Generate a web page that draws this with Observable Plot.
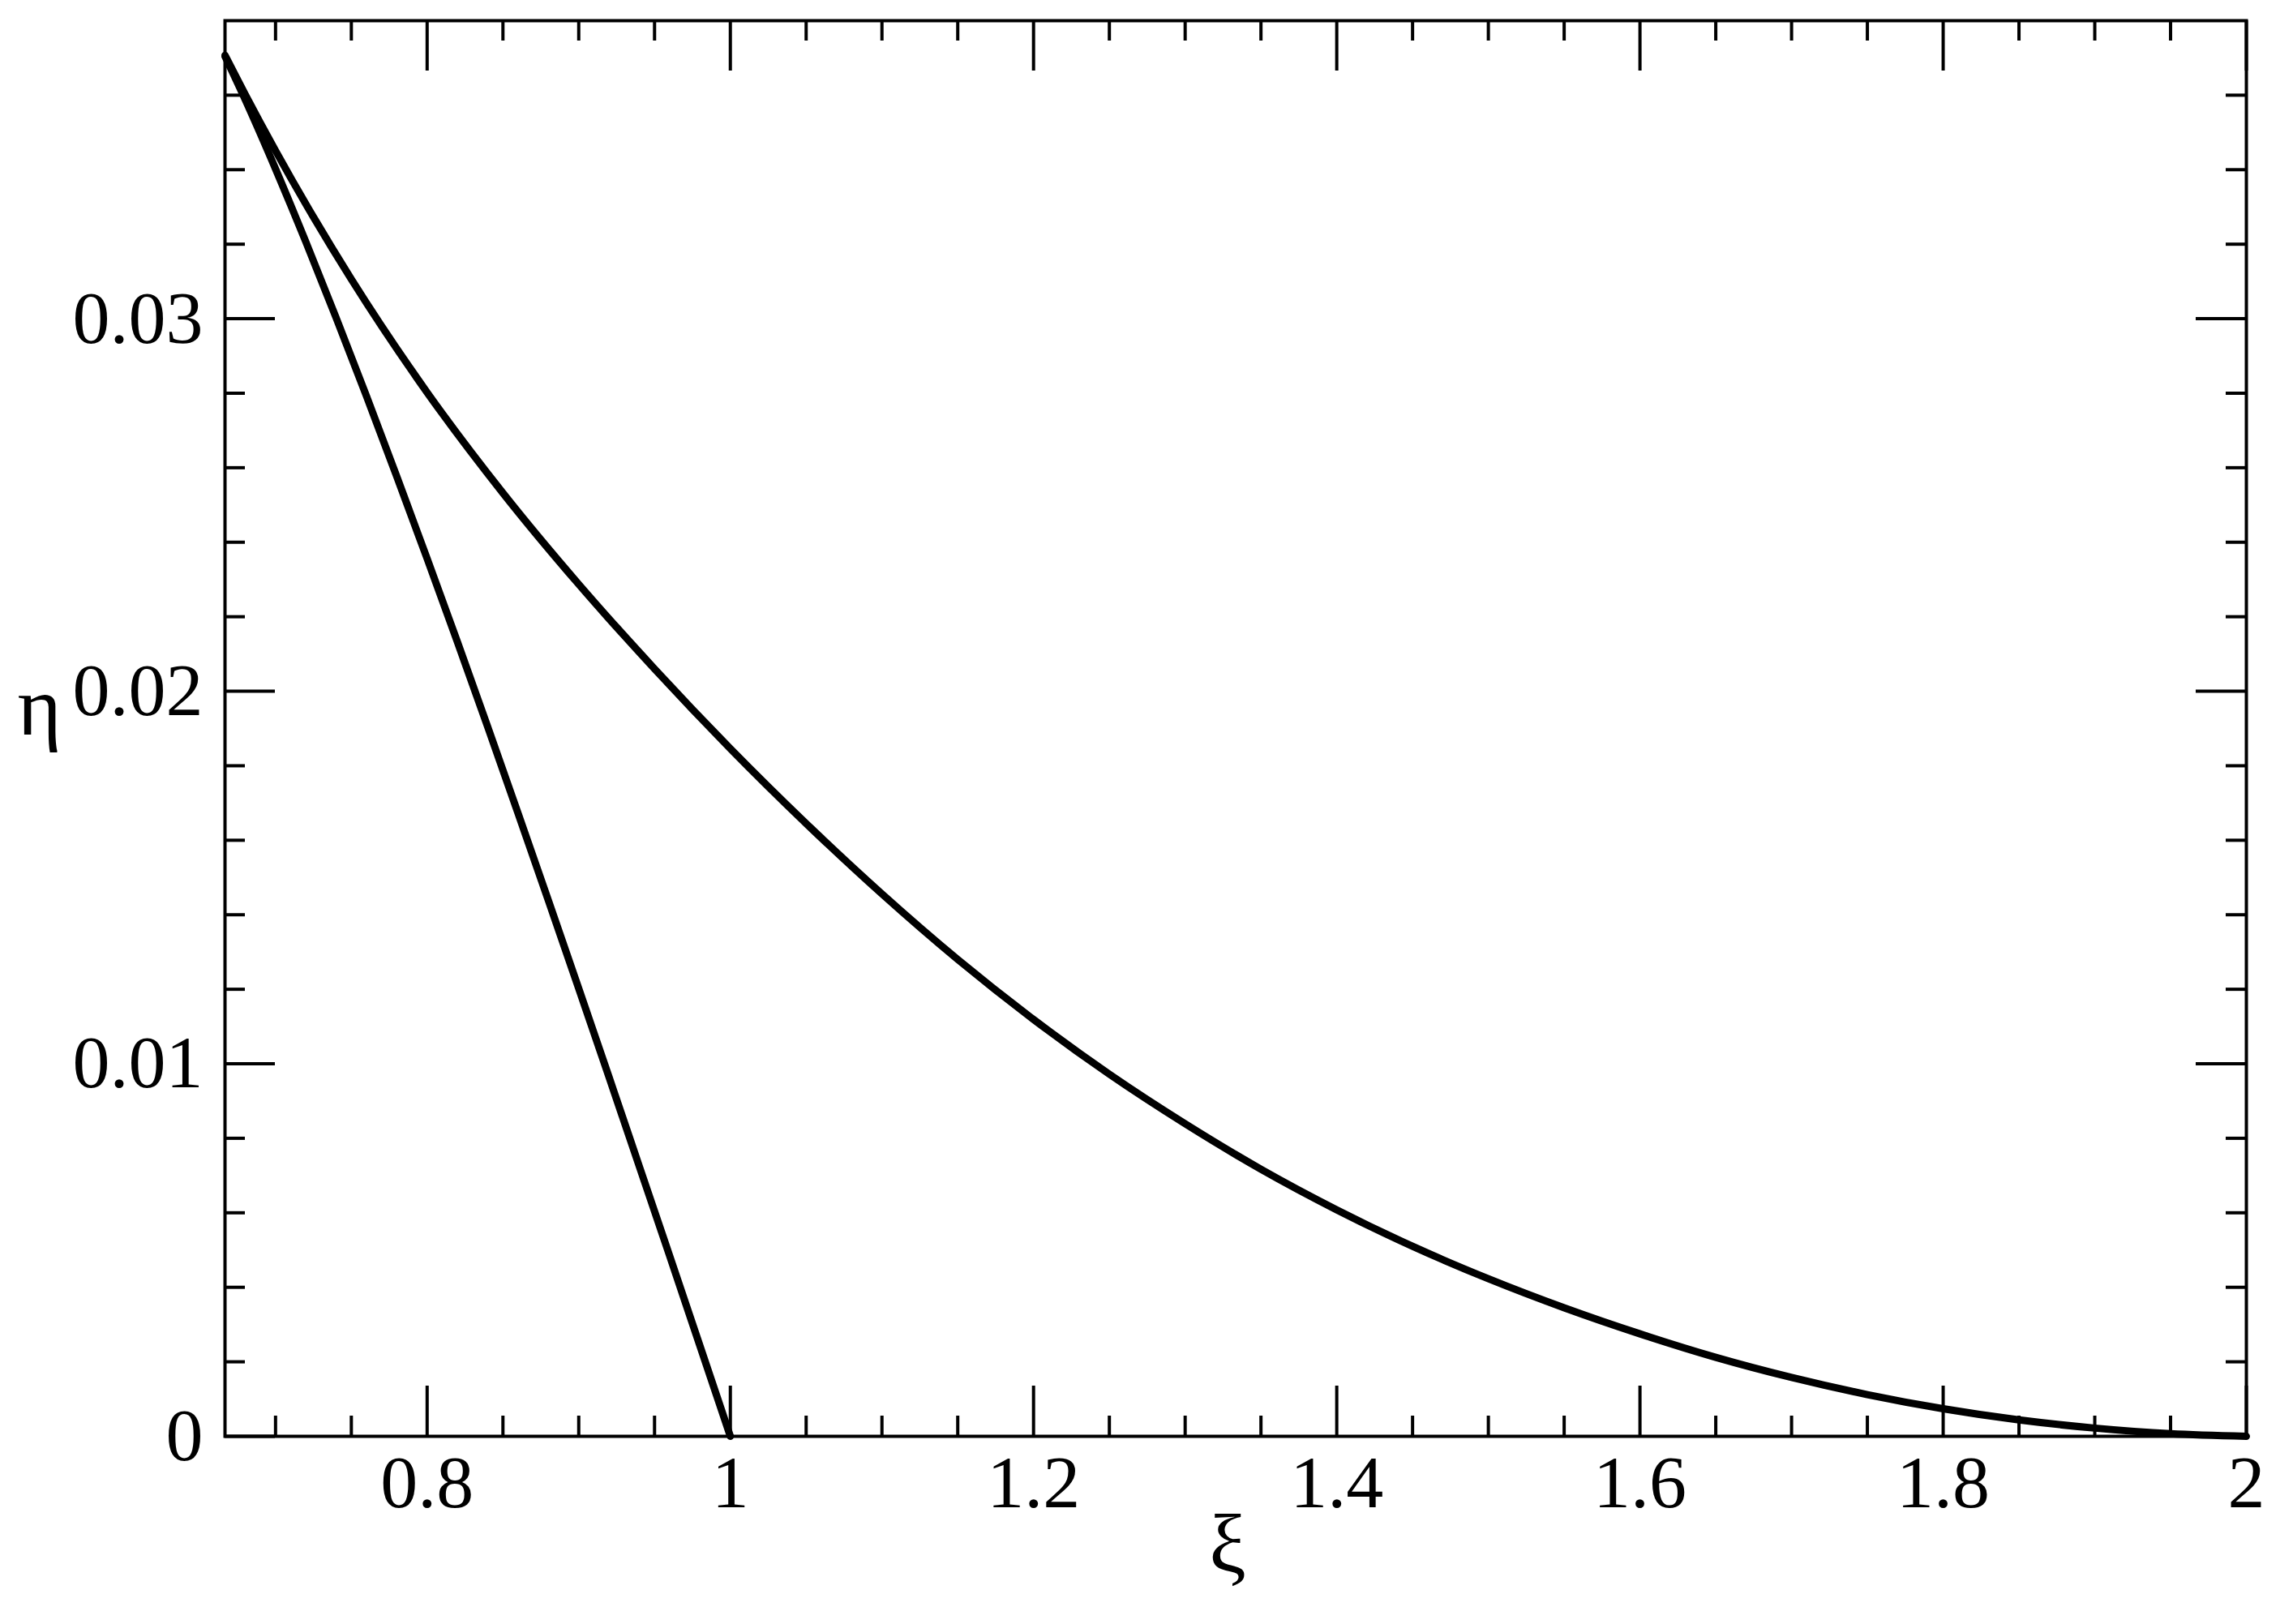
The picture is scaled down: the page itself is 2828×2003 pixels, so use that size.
<!DOCTYPE html>
<html><head><meta charset="utf-8">
<script src="https://cdn.jsdelivr.net/npm/d3@7"></script>
<script src="https://cdn.jsdelivr.net/npm/@observablehq/plot@0.6"></script>
<style>html,body{margin:0;padding:0;background:#fff;overflow:hidden}</style>
</head><body><div id="chart"></div>
<script>
// Lower curve (ends at xi = 1)
const xiLower  = [0.6667, 0.68, 0.70, 0.72, 0.74, 0.76, 0.78, 0.80, 0.82, 0.84, 0.86, 0.88, 0.90, 0.92, 0.94, 0.96, 0.98, 1.00];
const etaLower = [0.03704, 0.03588, 0.03402, 0.03206, 0.03002, 0.02792, 0.02576, 0.02356, 0.02132, 0.01904, 0.01672, 0.01438, 0.01202, 0.00964, 0.00724, 0.00484, 0.00242, 0];
// Upper curve (ends at xi = 2)
const xiUpper  = [0.6667, 0.68, 0.70, 0.725, 0.75, 0.80, 0.85, 0.90, 0.95, 1.00, 1.05, 1.10, 1.15, 1.20, 1.25, 1.30, 1.35, 1.40, 1.45, 1.50, 1.55, 1.60, 1.65, 1.70, 1.75, 1.80, 1.85, 1.90, 1.95, 2.00];
const etaUpper = [0.03707, 0.03602, 0.03451, 0.03273, 0.03106, 0.02802, 0.02532, 0.02287, 0.02060, 0.01846, 0.01645, 0.01456, 0.01280, 0.01119, 0.00972, 0.00839, 0.00717, 0.00608, 0.00510, 0.00423, 0.00345, 0.00275, 0.00212, 0.00158, 0.00112, 0.00074, 0.00044, 0.00022, 0.00007, 0];

const xTicks = [0.8, 1, 1.2, 1.4, 1.6, 1.8, 2];
const xMinorTicks = [0.7, 0.75, 0.85, 0.9, 0.95, 1.05, 1.1, 1.15, 1.25, 1.3, 1.35, 1.45, 1.5, 1.55, 1.65, 1.7, 1.75, 1.85, 1.9, 1.95];
const yTicks = [0, 0.01, 0.02, 0.03];
const yMinorTicks = [0.002, 0.004, 0.006, 0.008, 0.012, 0.014, 0.016, 0.018, 0.022, 0.024, 0.026, 0.028, 0.032, 0.034, 0.036];
const xLabel = "ξ";
const yLabel = "η";

const W = 2828, H = 2003;
const mL = 277, mR = 58, mT = 25, mB = 232;
const innerW = W - mL - mR, innerH = H - mT - mB;
const majorLen = 62, minorLen = 25, sw = 4;

const lower = xiLower.map((x, i) => ({xi: x, eta: etaLower[i]}));
const upper = xiUpper.map((x, i) => ({xi: x, eta: etaUpper[i]}));

const chart = Plot.plot({
  width: W, height: H,
  marginLeft: mL, marginRight: mR, marginTop: mT, marginBottom: mB,
  style: {fontFamily: "'Liberation Serif', 'Times New Roman', serif", fontSize: "90px", background: "#fff", color: "#000", overflow: "visible"},
  x: {domain: [2/3, 2]},
  y: {domain: [0, 0.038]},
  marks: [
    // tick labels
    Plot.axisX(xTicks, {tickSize: 0, tickPadding: 22, tickFormat: d => String(d), label: null, fontSize: 92}),
    Plot.axisY(yTicks, {tickSize: 0, tickPadding: 27, tickFormat: d => String(d), label: null, fontSize: 92}),
    // inward ticks on all four sides
    Plot.tickX(xTicks, {x: d => d, insetTop: innerH - majorLen, strokeWidth: sw}),
    Plot.tickX(xTicks, {x: d => d, insetBottom: innerH - majorLen, strokeWidth: sw}),
    Plot.tickX(xMinorTicks, {x: d => d, insetTop: innerH - minorLen, strokeWidth: sw}),
    Plot.tickX(xMinorTicks, {x: d => d, insetBottom: innerH - minorLen, strokeWidth: sw}),
    Plot.tickY(yTicks, {y: d => d, insetRight: innerW - majorLen, strokeWidth: sw}),
    Plot.tickY(yTicks, {y: d => d, insetLeft: innerW - majorLen, strokeWidth: sw}),
    Plot.tickY(yMinorTicks, {y: d => d, insetRight: innerW - minorLen, strokeWidth: sw}),
    Plot.tickY(yMinorTicks, {y: d => d, insetLeft: innerW - minorLen, strokeWidth: sw}),
    Plot.frame({stroke: "#000", strokeWidth: sw}),
    // curves
    Plot.line(lower, {x: "xi", y: "eta", stroke: "#000", strokeWidth: 9, curve: "monotone-x", strokeLinejoin: "round"}),
    Plot.line(upper, {x: "xi", y: "eta", stroke: "#000", strokeWidth: 9, curve: "monotone-x", strokeLinejoin: "round"}),
    // axis titles
    Plot.text([yLabel], {text: d => d, frameAnchor: "left", dx: -256, dy: -26, fontSize: 104}),
    Plot.text([xLabel], {text: d => d, frameAnchor: "bottom", dx: -10, dy: 166, fontSize: 102})
  ]
});
document.getElementById("chart").appendChild(chart);
</script>
</body></html>
